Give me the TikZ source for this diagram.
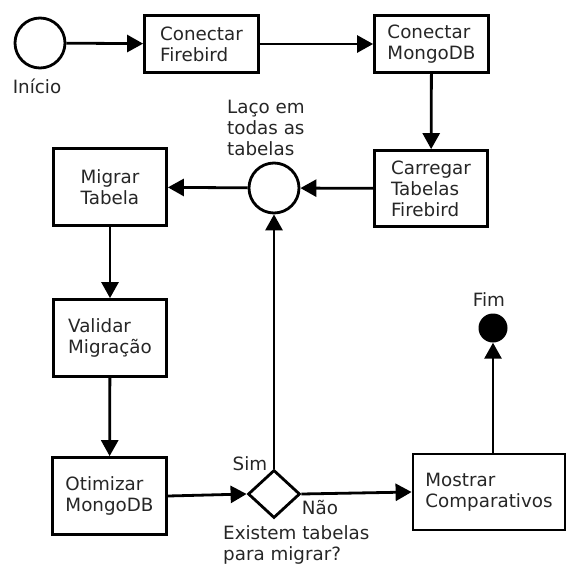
\documentclass[tikz,border=0pt]{standalone}
\usepackage{fontspec}
\setmainfont{DejaVu Sans}
\usetikzlibrary{arrows.meta,shapes.geometric}
\begin{document}
\begin{tikzpicture}[x=1pt,y=-1pt,
  every node/.style={font=\fontsize{18.3}{21}\selectfont, text=black!85},
  box/.style={draw=black, line width=2.8pt, rectangle, inner sep=0pt, align=left},
  ev/.style={draw=black, circle, line width=2.8pt, minimum size=50pt, inner sep=0pt},
  arr/.style={draw=black, line width=2.8pt, -{Triangle[length=16pt,width=17pt]}},
  lbl/.style={inner sep=0pt, align=left}
]
\useasboundingbox (0,0) rectangle (567,565);
% nodes
\node[ev] (start) at (40,43) {};
\node[lbl] (startlbl) at (37,86) {Início};
\node[box, minimum width=114pt, minimum height=57pt] (b1) at (201.5,44) {Conectar\\Firebird};
\node[box, minimum width=114pt, minimum height=57pt] (b2) at (431.5,44) {Conectar\\MongoDB};
\node[box, minimum width=113pt, minimum height=76pt] (b3) at (431,188.5) {Carregar\\Tabelas\\Firebird};
\node[ev] (loop) at (274,188) {};
\node[lbl, anchor=west] (looplbl) at (227,128) {Laço em\\todas as\\tabelas};
\node[box, minimum width=113pt, minimum height=77pt] (b4) at (110,187) {Migrar\\Tabela};
\node[box, minimum width=113pt, minimum height=77pt] (b5) at (110,338) {Validar\\Migração};
\node[box, minimum width=114pt, minimum height=77pt] (b6) at (109.5,496) {Otimizar\\MongoDB};
\node[draw=black, diamond, line width=2.8pt, inner sep=0pt, minimum width=52pt, minimum height=48pt] (dec) at (274,494) {};
\node[lbl] (sim) at (250,464) {Sim};
\node[lbl] (nao) at (320,508) {Não};
\node[lbl, anchor=west] (declbl) at (223,545) {Existem tabelas\\para migrar?};
\node[box, minimum width=152pt, minimum height=76pt] (b7) at (489,492) {Mostrar\\Comparativos};
\node[circle, fill=black, inner sep=0pt, minimum size=29pt] (fim) at (493,328) {};
\node[lbl] (fimlbl) at (489,300) {Fim};
% connectors
\draw[arr] (start) -- (b1);
\draw[arr] (b1) -- (b2);
\draw[arr] (b2) -- (b3);
\draw[arr] (b3) -- (loop);
\draw[arr] (loop) -- (b4);
\draw[arr] (b4) -- (b5);
\draw[arr] (b5) -- (b6);
\draw[arr] (b6.east) -- (dec.west);
\draw[arr] (dec.north) -- (loop.south);
\draw[arr] (dec.east) -- (b7.west);
\draw[arr] (fim |- b7.north) -- (fim.south);
\end{tikzpicture}
\end{document}
